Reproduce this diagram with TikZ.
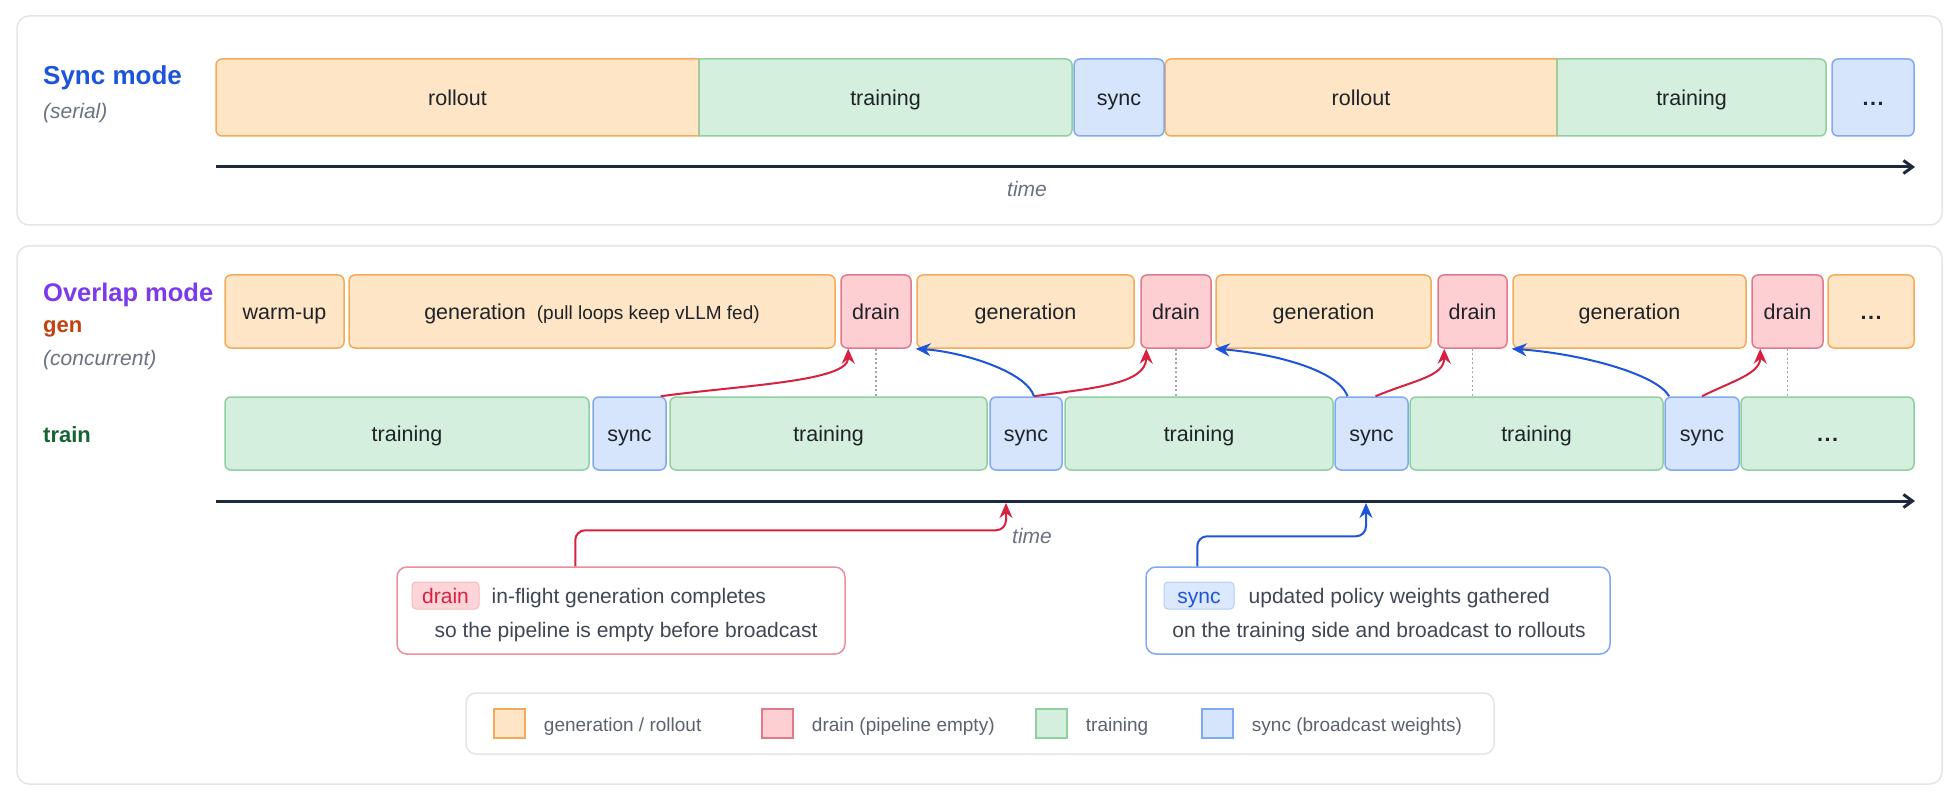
\documentclass[tikz,border=0pt]{standalone}
\usepackage{fontspec}
\setmainfont{Liberation Sans}
\usetikzlibrary{arrows.meta, positioning, calc}

\definecolor{genfill}{HTML}{FDE5C6}
\definecolor{gendraw}{HTML}{F5AA5A}
\definecolor{drainfill}{HTML}{FECFD2}
\definecolor{draindraw}{HTML}{E07A8A}
\definecolor{trainfill}{HTML}{D4EFDD}
\definecolor{traindraw}{HTML}{90D0A0}
\definecolor{syncfill}{HTML}{D6E4FC}
\definecolor{syncdraw}{HTML}{7FA9F0}
\definecolor{inkdark}{HTML}{1F2328}
\definecolor{axisink}{HTML}{1E293B}
\definecolor{mutedgray}{HTML}{6B7280}
\definecolor{panelline}{HTML}{E3E5E8}
\definecolor{syncblue}{HTML}{1D55DA}
\definecolor{overlappurple}{HTML}{7C3AED}
\definecolor{genred}{HTML}{C2410C}
\definecolor{traingreen}{HTML}{166534}
\definecolor{drainred}{HTML}{D7213F}
\definecolor{notegray}{HTML}{3F4654}
\definecolor{legendgray}{HTML}{5B6270}
\definecolor{dotgray}{HTML}{A0A4AB}
\definecolor{drainline}{HTML}{EE8D9C}
\definecolor{draintag}{HTML}{FDD5D9}
\definecolor{draintagline}{HTML}{F7B7BF}
\definecolor{syncline}{HTML}{7FA9F0}
\definecolor{synctag}{HTML}{DCE8FE}
\definecolor{synctagline}{HTML}{B3CCF7}

\begin{document}
\begin{tikzpicture}[
  x=1pt, y=-1pt,
  every node/.style={font=\fontsize{21.5}{26}\selectfont, text=inkdark},
  slot/.style={draw, line width=1.5pt, rounded corners=6pt, minimum height=73pt, inner sep=0pt, text height=15.5pt, text depth=0pt},
  genbox/.style={slot, fill=genfill, draw=gendraw},
  drainbox/.style={slot, fill=drainfill, draw=draindraw},
  trainbox/.style={slot, fill=trainfill, draw=traindraw},
  syncbox/.style={slot, fill=syncfill, draw=syncdraw},
  slottext/.style={inner sep=0pt, text height=15.5pt, text depth=0pt},
  genshape/.style={fill=genfill, draw=gendraw, line width=1.5pt},
  trainshape/.style={fill=trainfill, draw=traindraw, line width=1.5pt},
  rowlabel/.style={anchor=base west, inner sep=0pt, font=\fontsize{22}{26}\selectfont\bfseries},
  aside/.style={anchor=base west, inner sep=0pt, font=\fontsize{21}{25}\selectfont\itshape, text=mutedgray},
  timelabel/.style={anchor=base, inner sep=0pt, font=\fontsize{21}{25}\selectfont\itshape, text=mutedgray},
  panel/.style={draw=panelline, line width=1.5pt, fill=white, rounded corners=12pt},
  axisarr/.style={draw=axisink, line width=3pt, -{Straight Barb[length=9pt, width=13pt]}},
  drainarr/.style={draw=drainred, line width=2pt, -{Stealth[length=15pt, width=13pt, inset=5pt]}},
  syncarr/.style={draw=syncblue, line width=2pt, -{Stealth[length=15pt, width=13pt, inset=5pt]}},
  dotlink/.style={draw=dotgray, line width=1.2pt, dash pattern=on 2pt off 2.5pt},
  notebox/.style={draw, line width=1.5pt, fill=white, rounded corners=10pt},
  tagbox/.style={draw, line width=1pt, rounded corners=4pt, minimum height=27pt, inner sep=0pt, font=\fontsize{21}{25}\selectfont, text height=15pt, text depth=0pt},
  notetext/.style={inner sep=0pt, font=\fontsize{21}{25}\selectfont, text=notegray, text height=15pt, text depth=0pt},
  swatch/.style={draw, line width=1.5pt, minimum width=31pt, minimum height=29pt, inner sep=0pt},
  legendtext/.style={inner sep=0pt, font=\fontsize{19}{23}\selectfont, text=legendgray, text height=15pt, text depth=0pt}
]
  \fill[white] (0,0) rectangle (1960,802);

  % --- sync mode panel
  \draw[panel] (17,16) rectangle (1942,225);
  \node[rowlabel, font=\fontsize{26}{30}\selectfont\bfseries, text=syncblue] (lsm) at (43,85) {Sync mode};
  \node[aside] (lser) at (43,119) {(serial)};

  % rollout + training blocks share a square edge
  \draw[genshape] (699,59) -- (222,59) arc[start angle=-90, end angle=-180, radius=6]
    -- (216,130) arc[start angle=180, end angle=90, radius=6] -- (699,136) -- cycle;
  \draw[trainshape] (699,59) -- (1066,59) arc[start angle=-90, end angle=0, radius=6]
    -- (1072,130) arc[start angle=0, end angle=90, radius=6] -- (699,136) -- cycle;
  \draw[genshape] (1557,59) -- (1171,59) arc[start angle=-90, end angle=-180, radius=6]
    -- (1165,130) arc[start angle=180, end angle=90, radius=6] -- (1557,136) -- cycle;
  \draw[trainshape] (1557,59) -- (1820,59) arc[start angle=-90, end angle=0, radius=6]
    -- (1826,130) arc[start angle=0, end angle=90, radius=6] -- (1557,136) -- cycle;

  \node[slottext] (ro1) at (457.5,97.5) {rollout};
  \node[slottext] (tr1) at (885.5,97.5) {training};
  \node[syncbox, minimum height=77pt, minimum width=90pt] (sy1) at (1119,97.5) {sync};
  \node[slottext] (ro2) at (1361,97.5) {rollout};
  \node[slottext] (tr2) at (1691.5,97.5) {training};
  \node[syncbox, minimum height=77pt, minimum width=82pt] (dt1) at (1873,97.5) {\textbf{.\hspace{1.5pt}.\hspace{1.5pt}.}};

  \coordinate (ta0) at (216,167);
  \coordinate (ta1) at (1915,167);
  \draw[axisarr] (ta0) -- (ta1);
  \node[timelabel] (tm1) at (1027,197) {time};

  % --- overlap mode panel
  \draw[panel] (17,246) rectangle (1942,784);
  \node[rowlabel, font=\fontsize{25.5}{30}\selectfont\bfseries, text=overlappurple] (lom) at (43,302) {Overlap mode};
  \node[rowlabel, text=genred] (lgen) at (43,333) {gen};
  \node[aside] (lcon) at (43,366) {(concurrent)};
  \node[rowlabel, text=traingreen] (ltrain) at (43,442) {train};

  % gen row
  \node[genbox,   minimum width=119pt] (wu)  at (284.5,311.5)  {warm-up};
  \node[genbox,   minimum width=486pt] (g1)  at (592,311.5)    {generation\hspace{11pt}{\fontsize{19}{23}\selectfont(pull loops keep vLLM fed)}};
  \node[drainbox, minimum width=70pt]  (d1)  at (876,311.5)    {drain};
  \node[genbox,   minimum width=217pt] (g2)  at (1025.5,311.5) {generation};
  \node[drainbox, minimum width=70pt]  (d2)  at (1176,311.5)   {drain};
  \node[genbox,   minimum width=215pt] (g3)  at (1323.5,311.5) {generation};
  \node[drainbox, minimum width=69pt]  (d3)  at (1472.5,311.5) {drain};
  \node[genbox,   minimum width=233pt] (g4)  at (1629.5,311.5) {generation};
  \node[drainbox, minimum width=71pt]  (d4)  at (1787.5,311.5) {drain};
  \node[genbox,   minimum width=86pt]  (dt2) at (1871,311.5)   {\textbf{.\hspace{1.5pt}.\hspace{1.5pt}.}};

  % train row
  \node[trainbox, minimum width=364pt] (t1)  at (407,433.5)    {training};
  \node[syncbox,  minimum width=73pt]  (s1)  at (629.5,433.5)  {sync};
  \node[trainbox, minimum width=317pt] (t2)  at (828.5,433.5)  {training};
  \node[syncbox,  minimum width=72pt]  (s2)  at (1026,433.5)   {sync};
  \node[trainbox, minimum width=268pt] (t3)  at (1199,433.5)   {training};
  \node[syncbox,  minimum width=73pt]  (s3)  at (1371.5,433.5) {sync};
  \node[trainbox, minimum width=253pt] (t4)  at (1536.5,433.5) {training};
  \node[syncbox,  minimum width=74pt]  (s4)  at (1702,433.5)   {sync};
  \node[trainbox, minimum width=173pt] (dt3) at (1827.5,433.5) {\textbf{.\hspace{1.5pt}.\hspace{1.5pt}.}};

  \draw[dotlink] (d1.south) -- (d1.south |- t2.north);
  \draw[dotlink] (d2.south) -- (d2.south |- t3.north);
  \draw[dotlink] (d3.south) -- (d3.south |- t4.north);
  \draw[dotlink] (d4.south) -- (d4.south |- dt3.north);

  % sync -> drain
  \draw[drainarr] ([xshift=-6pt]s1.north east) .. controls +(80,-11) and +(0,33) .. ([xshift=8pt]d1.south west);
  \draw[drainarr] ([xshift=8pt]s2.north) .. controls +(56,-8) and +(0,36) .. ([xshift=6pt]d2.south west);
  \draw[drainarr] ([xshift=4pt]s3.north) .. controls +(38,-16) and +(0,28) .. ([xshift=7pt]d3.south west);
  \draw[drainarr] (s4.north) .. controls +(30,-15) and +(0,25) .. ([xshift=9pt]d4.south west);

  % sync -> weights back to gen
  \draw[syncarr] ([xshift=8pt]s2.north) .. controls +(-8,-25) and +(46,3) .. ([xshift=4pt]d1.south east);
  \draw[syncarr] ([xshift=-24pt]s3.north) .. controls +(-10,-28) and +(52,4) .. ([xshift=3pt]d2.south east);
  \draw[syncarr] ([xshift=-33pt]s4.north) .. controls +(-12,-22) and +(70,5) .. ([xshift=4pt]d3.south east);

  \coordinate (ba0) at (216,501);
  \coordinate (ba1) at (1915,501);
  \draw[axisarr] (ba0) -- (ba1);
  \node[timelabel] (tm2) at (1032,543) {time};

  % callouts
  \node[notebox, draw=drainline, minimum width=448pt, minimum height=87pt] (dc) at (621,610.5) {};
  \node[tagbox, fill=draintag, draw=draintagline, text=drainred, minimum width=67pt] (dk) at (445.5,595.5) {drain};
  \node[notetext, right=12pt of dk] (dl1) {in-flight generation completes};
  \node[notetext] (dl2) at (626,629.5) {so the pipeline is empty before broadcast};

  \node[notebox, draw=syncline, minimum width=464pt, minimum height=87pt] (sc) at (1378,610.5) {};
  \node[tagbox, fill=synctag, draw=synctagline, text=syncblue, minimum width=70pt] (sk) at (1199,595.5) {sync};
  \node[notetext, right=14pt of sk] (sl1) {updated policy weights gathered};
  \node[notetext] (sl2) at (1379,629.5) {on the training side and broadcast to rollouts};

  \coordinate (dpin) at (1006,503);
  \coordinate (spin) at (1366,503);
  \draw[drainarr, rounded corners=10pt] (dc.north west) ++(179,0) -- ++(0,-36) -| (dpin);
  \draw[syncarr, rounded corners=10pt] (sc.north west) ++(52,0) -- ++(0,-30) -| (spin);

  % legend
  \draw[panel, rounded corners=10pt] (466,693) rectangle (1494,754);
  \node[swatch, fill=genfill, draw=gendraw]     (lg1) at (509.5,723.5)  {};
  \node[legendtext, right=18pt of lg1] (lt1) {generation / rollout};
  \node[swatch, fill=drainfill, draw=draindraw] (lg2) at (777.5,723.5)  {};
  \node[legendtext, right=18pt of lg2] (lt2) {drain (pipeline empty)};
  \node[swatch, fill=trainfill, draw=traindraw] (lg3) at (1051.5,723.5) {};
  \node[legendtext, right=18pt of lg3] (lt3) {training};
  \node[swatch, fill=syncfill, draw=syncdraw]   (lg4) at (1217.5,723.5) {};
  \node[legendtext, right=18pt of lg4] (lt4) {sync (broadcast weights)};
\end{tikzpicture}
\end{document}
